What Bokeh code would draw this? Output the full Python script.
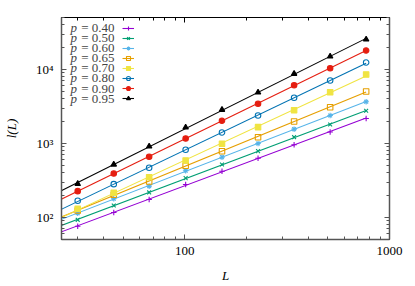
import numpy as np
from bokeh.plotting import figure
from bokeh.models import (FixedTicker, LogAxis, Legend, LegendItem, Label,
                          CustomJSTickFormatter)
from bokeh.embed import file_html
from bokeh.resources import INLINE

# ---------------- data ----------------
L = [30, 45, 67, 101, 152, 228, 342, 513, 769]
p_labels = ["0.40", "0.50", "0.60", "0.65", "0.70", "0.80", "0.90", "0.95"]
l_p040 = [76, 117, 175, 279, 422, 633, 960, 1430, 2176]
l_p050 = [93, 145, 218, 340, 520, 787, 1216, 1806, 2766]
l_p060 = [114, 179, 265, 428, 653, 1000, 1561, 2390, 3660]
l_p065 = [124, 203, 307, 500, 787, 1216, 1983, 3094, 5044]
l_p070 = [131, 216, 350, 589, 991, 1661, 2818, 4934, 8560]
l_p080 = [168, 282, 470, 822, 1408, 2390, 4145, 7101, 12430]
l_p090 = [227, 393, 661, 1168, 2027, 3440, 6135, 10410, 18060]
l_p095 = [285, 520, 911, 1645, 2854, 4889, 8748, 14990, 25430]
series = [l_p040, l_p050, l_p060, l_p065, l_p070, l_p080, l_p090, l_p095]

x_ticks = [100, 1000]
x_tick_labels = ["100", "1000"]
x_minor = [30, 40, 50, 60, 70, 80, 90, 200, 300, 400, 500, 600, 700, 800, 900]
y_ticks = [100, 1000, 10000]
y_tick_labels = ["10²", "10³", "10⁴"]
y_minor = [60, 70, 80, 90, 200, 300, 400, 500, 600, 700, 800, 900,
           2000, 3000, 4000, 5000, 6000, 7000, 8000, 9000,
           20000, 30000, 40000, 50000]

# ---------------- style ----------------
colors = ["#9400d3", "#009e73", "#56b4e9", "#e69f00", "#f0e442",
          "#0072b2", "#e51e10", "#000000"]
markers = ["cross", "x", "asterisk", "square", "square", "circle", "circle", "triangle"]
filled = [False, False, False, False, True, False, True, True]
FONT = "Liberation Serif"
FS = "13px"
AX = "#555555"
FH = 222

p = figure(frame_width=328, frame_height=FH, x_axis_type="log", y_axis_type="log",
           x_range=(25, 1000), y_range=(50.4, 50400),
           output_backend="svg", toolbar_location=None,
           min_border_left=61, min_border_right=18,
           min_border_top=17, min_border_bottom=44)
p.grid.visible = False
p.background_fill_color = "white"
p.outline_line_color = "black"
p.outline_line_width = 1

xt = FixedTicker(ticks=x_ticks, minor_ticks=x_minor)
yt = FixedTicker(ticks=y_ticks, minor_ticks=y_minor)
blank = CustomJSTickFormatter(code="return ''")


def style_axis(ax, color=AX, width=1.5):
    ax.axis_line_color = color
    ax.axis_line_width = width
    ax.major_tick_in = 5
    ax.major_tick_out = 0
    ax.minor_tick_in = 3
    ax.minor_tick_out = 0
    ax.major_tick_line_color = color
    ax.minor_tick_line_color = color
    ax.major_label_text_font = FONT
    ax.major_label_text_font_size = FS
    ax.major_label_text_color = "black"
    ax.axis_label_text_font = FONT
    ax.axis_label_text_font_size = FS
    ax.axis_label_text_font_style = "italic"
    ax.axis_label_text_color = "black"


xa = p.xaxis[0]
xa.ticker = xt
xa.major_label_overrides = {t: s for t, s in zip(x_ticks, x_tick_labels)}
xa.axis_label = "L"
style_axis(xa)
xa.major_label_standoff = 7
xa.axis_label_standoff = 10

ya = p.yaxis[0]
ya.ticker = yt
ya.major_label_overrides = {t: s for t, s in zip(y_ticks, y_tick_labels)}
ya.axis_label = "l(L)"
style_axis(ya)
ya.major_label_standoff = 8
ya.axis_label_standoff = 14

ra = LogAxis(ticker=yt, formatter=blank)
style_axis(ra)
ra.major_label_standoff = 0
ra.major_label_text_font_size = "0px"
p.add_layout(ra, "right")

ta = LogAxis(ticker=xt, formatter=blank)
style_axis(ta, color="black", width=1)
ta.major_label_standoff = 0
ta.major_label_text_font_size = "0px"
p.add_layout(ta, "above")

items = []
logL = np.log10(np.array(L, dtype=float))
for vals, c, m, f, lab in zip(series, colors, markers, filled, p_labels):
    k, b = np.polyfit(logL, np.log10(np.array(vals, dtype=float)), 1)
    xf = np.array([18.0, L[-1]])
    yf = 10 ** (b + k * np.log10(xf))
    lr = p.line(xf, yf, line_color=c, line_width=1.1)
    sr = p.scatter(L, vals, marker=m, size=5.5, line_color=c, line_width=1.1,
                   fill_color=c if f else None)
    items.append(LegendItem(label=" ", renderers=[lr, sr]))

legend = Legend(items=items, location=(61, 136), orientation="vertical",
                glyph_width=12, glyph_height=10, label_height=10, label_width=0,
                spacing=0, padding=0, margin=0, label_standoff=0,
                label_text_font_size="1px",
                background_fill_alpha=0, border_line_alpha=0)
p.add_layout(legend, "center")

# legend texts (gnuplot style: text left of sample)
for i, lab in enumerate(p_labels):
    yy = FH - (9.7 + 10.14 * i)
    p.add_layout(Label(x=9, y=yy, x_units="screen", y_units="screen", text="p",
                       text_font=FONT, text_font_size=FS, text_font_style="italic",
                       text_baseline="middle", text_align="left"))
    p.add_layout(Label(x=53, y=yy, x_units="screen", y_units="screen",
                       text="=\u00a0" + lab, text_font=FONT, text_font_size=FS,
                       text_baseline="middle", text_align="right"))

open("out.html", "w").write(file_html(p, INLINE))
